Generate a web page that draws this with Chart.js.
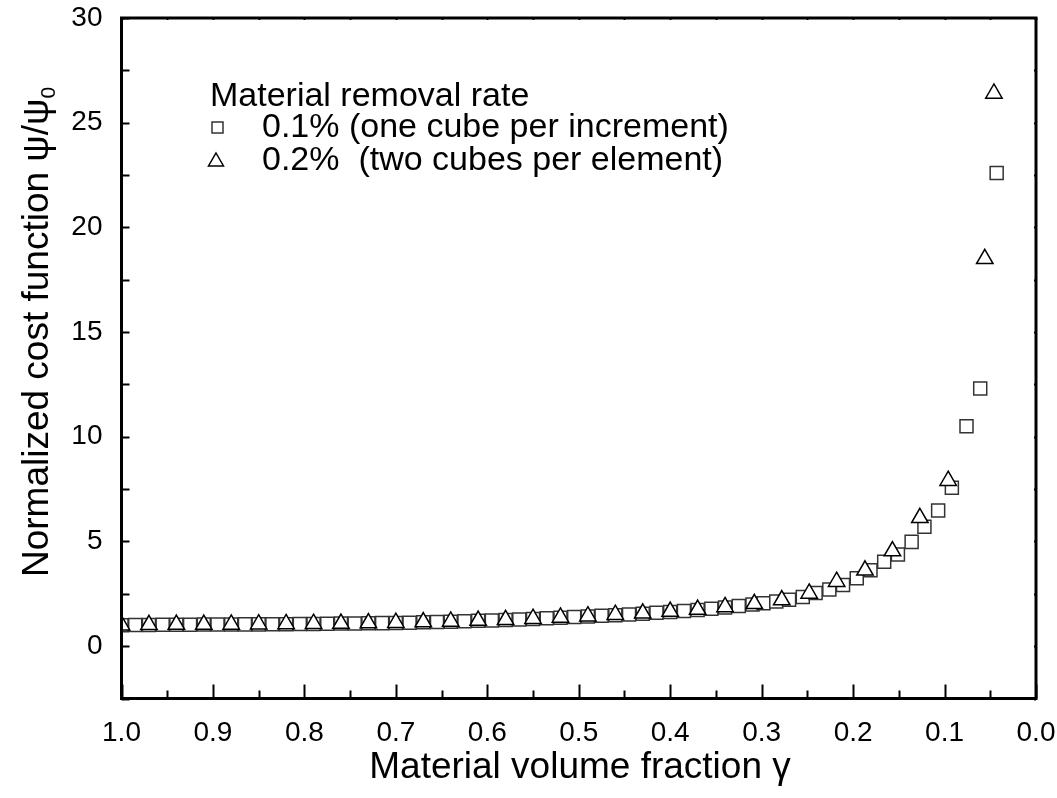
<!DOCTYPE html>
<html>
<head>
<meta charset="utf-8">
<script src="https://cdn.jsdelivr.net/npm/chart.js"></script>
<style>
  body { margin: 0; background: #fff; }
  #wrap { width: 1057px; height: 798px; }
</style>
</head>
<body>
<div id="wrap"><canvas id="myChart" width="1057" height="798"></canvas></div>
<script>
// 0.1% removal rate (squares)
var squareX = [1.0, 0.985, 0.97, 0.955, 0.94, 0.925, 0.91, 0.895, 0.88, 0.865, 0.85, 0.835, 0.82, 0.805,
  0.79, 0.775, 0.76, 0.745, 0.73, 0.715, 0.7, 0.685, 0.67, 0.655, 0.64, 0.625, 0.61, 0.595, 0.58, 0.565,
  0.55, 0.535, 0.52, 0.505, 0.49, 0.475, 0.46, 0.445, 0.43, 0.415, 0.4, 0.385, 0.37, 0.355, 0.34, 0.325,
  0.31, 0.298, 0.284, 0.27, 0.255, 0.241, 0.226, 0.211, 0.196, 0.181, 0.166, 0.151, 0.136, 0.122, 0.107,
  0.092, 0.076, 0.061, 0.043];
var squareY = [1.00, 1.01, 1.01, 1.02, 1.02, 1.02, 1.03, 1.03, 1.03, 1.04, 1.04, 1.05, 1.05, 1.06,
  1.06, 1.07, 1.08, 1.08, 1.09, 1.10, 1.11, 1.12, 1.14, 1.15, 1.17, 1.19, 1.21, 1.23, 1.25, 1.27,
  1.30, 1.33, 1.36, 1.39, 1.42, 1.45, 1.48, 1.51, 1.55, 1.59, 1.63, 1.68, 1.73, 1.79, 1.85, 1.92,
  1.99, 2.05, 2.13, 2.22, 2.35, 2.54, 2.71, 2.92, 3.24, 3.63, 4.03, 4.38, 4.98, 5.7, 6.48,
  7.56, 10.5, 12.3, 22.6];

// 0.2% removal rate (triangles)
var triangleX = [1.0, 0.97, 0.94, 0.91, 0.88, 0.85, 0.82, 0.79, 0.76, 0.73, 0.70, 0.67, 0.64, 0.61,
  0.58, 0.55, 0.52, 0.49, 0.46, 0.43, 0.40, 0.37, 0.34, 0.308, 0.278, 0.248, 0.218, 0.187, 0.157,
  0.127, 0.096, 0.056, 0.046];
var triangleY = [1.00, 1.02, 1.03, 1.03, 1.04, 1.05, 1.06, 1.07, 1.08, 1.10, 1.12, 1.15, 1.18, 1.22,
  1.26, 1.31, 1.37, 1.43, 1.50, 1.57, 1.65, 1.75, 1.87, 2.02, 2.2, 2.52, 3.08, 3.62, 4.54,
  6.13, 7.9, 18.5, 26.4];

var xTicks = [1.0, 0.9, 0.8, 0.7, 0.6, 0.5, 0.4, 0.3, 0.2, 0.1, 0.0];
var yTicks = [0, 5, 10, 15, 20, 25, 30];

var legendTitle = 'Material removal rate';
var seriesNames = ['0.1% (one cube per increment)', '0.2%  (two cubes per element)'];

var FONT = '"Liberation Sans", Arial, sans-serif';

function toPoints(xs, ys) {
  return xs.map(function (x, i) { return { x: x, y: ys[i] }; });
}

// frame, inward ticks, axis titles and the in-plot legend
var decor = {
  id: 'decor',
  afterDraw: function (chart) {
    var ctx = chart.ctx, a = chart.chartArea;
    var xs = chart.scales.x, ys = chart.scales.y;
    ctx.save();
    ctx.strokeStyle = '#000';

    ctx.lineWidth = 2;
    for (var i = 0; i <= 20; i++) {
      var xv = i * 0.05;
      var px = Math.round(xs.getPixelForValue(xv)) + 0.5;
      var len = (i % 2 === 0) ? 14 : 8;
      ctx.beginPath(); ctx.moveTo(px, a.bottom); ctx.lineTo(px, a.bottom - len); ctx.stroke();
      ctx.beginPath(); ctx.moveTo(px, a.top); ctx.lineTo(px, a.top + 2); ctx.stroke();
    }
    for (var j = -1; j <= 12; j++) {
      var yv = j * 2.5;
      var py = Math.round(ys.getPixelForValue(yv)) + 0.5;
      ctx.beginPath(); ctx.moveTo(a.left, py); ctx.lineTo(a.left + 8, py); ctx.stroke();
      ctx.beginPath(); ctx.moveTo(a.right, py); ctx.lineTo(a.right - 2, py); ctx.stroke();
    }

    ctx.lineWidth = 3;
    ctx.strokeRect(a.left, a.top, a.right - a.left, a.bottom - a.top);

    // axis titles
    ctx.fillStyle = '#000';
    ctx.textBaseline = 'middle';
    ctx.textAlign = 'center';
    ctx.font = '37px ' + FONT;
    ctx.fillText('Material volume fraction \u03b3', 580, 768);

    ctx.save();
    ctx.translate(38, 332);
    ctx.rotate(-Math.PI / 2);
    var main = 'Normalized cost function \u03c8/\u03c8';
    ctx.font = '37px ' + FONT;
    var w1 = ctx.measureText(main).width;
    ctx.font = '21px ' + FONT;
    var w2 = ctx.measureText('0').width;
    var start = -(w1 + w2) / 2;
    ctx.textAlign = 'left';
    ctx.font = '37px ' + FONT;
    ctx.fillText(main, start, 0);
    ctx.font = '21px ' + FONT;
    ctx.fillText('0', start + w1, 11);
    ctx.restore();

    // legend
    ctx.textAlign = 'left';
    ctx.font = '34px ' + FONT;
    ctx.fillText(legendTitle, 210, 97);
    ctx.fillText(seriesNames[0], 262, 128);
    ctx.fillText(seriesNames[1], 262, 161);
    ctx.lineWidth = 1.5;
    ctx.strokeStyle = '#333';
    ctx.fillStyle = '#fff';
    ctx.fillRect(212, 122, 11, 11);
    ctx.strokeRect(212, 122, 11, 11);
    ctx.strokeStyle = '#000';
    ctx.beginPath();
    ctx.moveTo(216, 153); ctx.lineTo(223.5, 166); ctx.lineTo(208.5, 166); ctx.closePath();
    ctx.stroke();
    ctx.restore();
  }
};

new Chart(document.getElementById('myChart'), {
  type: 'scatter',
  data: {
    datasets: [
      {
        label: seriesNames[1],
        data: toPoints(triangleX, triangleY),
        pointStyle: 'triangle',
        pointRadius: 9.5,
        backgroundColor: '#fff',
        borderColor: '#000',
        borderWidth: 1.5,
        clip: 0
      },
      {
        label: seriesNames[0],
        data: toPoints(squareX, squareY),
        pointStyle: 'rect',
        pointRadius: 9.2,
        backgroundColor: '#fff',
        borderColor: '#333',
        borderWidth: 1.5,
        clip: 0
      }
    ]
  },
  options: {
    responsive: false,
    animation: false,
    layout: { padding: { left: 0, right: 21, top: 18, bottom: 0 } },
    plugins: { legend: { display: false }, tooltip: { enabled: false } },
    scales: {
      x: {
        type: 'linear',
        reverse: true,
        min: 0,
        max: 1,
        grid: { display: false, drawTicks: false },
        border: { display: false },
        afterBuildTicks: function (s) { s.ticks = xTicks.map(function (v) { return { value: v }; }); },
        afterFit: function (s) { s.height = 99.5; s.paddingLeft = 0; s.paddingRight = 0; },
        ticks: {
          color: '#000',
          padding: 18,
          maxRotation: 0,
          font: { family: FONT, size: 28 },
          callback: function (v) { return Number(v).toFixed(1); }
        }
      },
      y: {
        min: -2.5,
        max: 30,
        grid: { display: false, drawTicks: false },
        border: { display: false },
        afterBuildTicks: function (s) { s.ticks = yTicks.map(function (v) { return { value: v }; }); },
        afterFit: function (s) { s.width = 121.5; s.paddingTop = 0; s.paddingBottom = 0; },
        ticks: {
          color: '#000',
          padding: 19,
          font: { family: FONT, size: 28 }
        }
      }
    }
  },
  plugins: [decor]
});
</script>
</body>
</html>
